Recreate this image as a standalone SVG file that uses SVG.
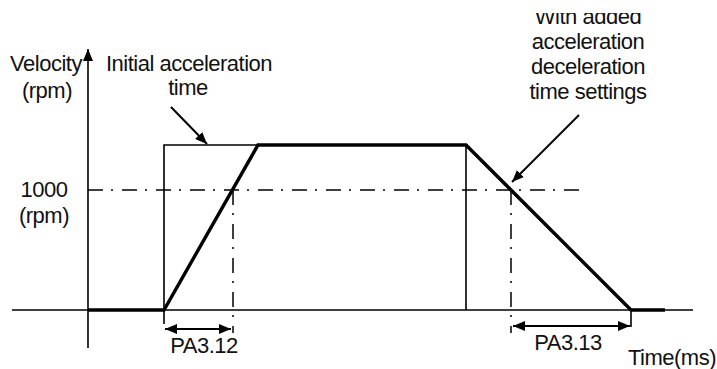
<svg xmlns="http://www.w3.org/2000/svg" width="717" height="369" viewBox="0 0 717 369">
<style>
text{font-family:"Liberation Sans",Arial,sans-serif;font-size:22px;letter-spacing:-0.5px;fill:#111}
.thin{stroke:#000;stroke-width:1.6;fill:none}
.dim{stroke:#000;stroke-width:2;fill:none}
.thick{stroke:#000;stroke-width:3.4;fill:none;stroke-linejoin:miter}
.dd{stroke:#000;stroke-width:1.5;fill:none;stroke-dasharray:15 8 2 9}
.ptr{stroke:#000;stroke-width:2;fill:none}
</style>
<defs>
<marker id="ah" viewBox="0 0 12 10" refX="12" refY="5" markerWidth="12" markerHeight="10" markerUnits="userSpaceOnUse" orient="auto-start-reverse">
<path d="M0,0 L12,5 L0,10 Z" fill="#000"/>
</marker>
<marker id="ah2" viewBox="0 0 12 10" refX="12" refY="5" markerWidth="13" markerHeight="10" markerUnits="userSpaceOnUse" orient="auto">
<path d="M0,0 L12,5 L0,10 Z" fill="#000"/>
</marker>
<clipPath id="topclip"><rect x="0" y="13" width="717" height="30"/></clipPath>
</defs>
<g id="axes">
<line class="thin" x1="88" y1="348" x2="88" y2="49" marker-end="url(#ah2)"/>
<line class="thin" x1="12" y1="310" x2="693" y2="310"/>
</g>
<g id="reference-lines">
<line class="dd" x1="88" y1="190" x2="580" y2="190"/>
<line class="dd" x1="233" y1="190" x2="233" y2="333"/>
<line class="dd" x1="511" y1="190" x2="511" y2="333"/>
</g>
<g id="step-profile">
<polyline class="thin" points="164,324 164,145 466,145 466,310"/>
</g>
<g id="ramp-profile">
<polyline class="thick" points="88,310 164,310 258,145 466,145 631,310 665,310"/>
</g>
<g id="connectors">
<line class="ptr" x1="171" y1="107" x2="207" y2="144" marker-end="url(#ah)"/>
<line class="ptr" x1="579" y1="115" x2="512" y2="182" marker-end="url(#ah)"/>
<line class="dim" x1="165" y1="329" x2="231" y2="329" marker-start="url(#ah)" marker-end="url(#ah)"/>
<line class="dim" x1="513" y1="326" x2="630" y2="326" marker-start="url(#ah)" marker-end="url(#ah)"/>
<line class="thin" x1="631" y1="310" x2="631" y2="327"/>
</g>
<g id="labels">
<text x="46" y="71" text-anchor="middle">Velocity</text>
<text x="47" y="98" text-anchor="middle">(rpm)</text>
<text x="44" y="197" text-anchor="middle">1000</text>
<text x="44" y="223" text-anchor="middle">(rpm)</text>
<text x="189" y="71" text-anchor="middle">Initial acceleration</text>
<text x="188" y="95" text-anchor="middle">time</text>
<text x="588" y="24" text-anchor="middle" clip-path="url(#topclip)">With added</text>
<text x="588" y="49" text-anchor="middle">acceleration</text>
<text x="588" y="74" text-anchor="middle">deceleration</text>
<text x="588" y="99" text-anchor="middle">time settings</text>
<text x="204" y="353" text-anchor="middle">PA3.12</text>
<text x="568" y="350" text-anchor="middle">PA3.13</text>
<text x="716" y="365" text-anchor="end">Time(ms)</text>
</g>
</svg>
